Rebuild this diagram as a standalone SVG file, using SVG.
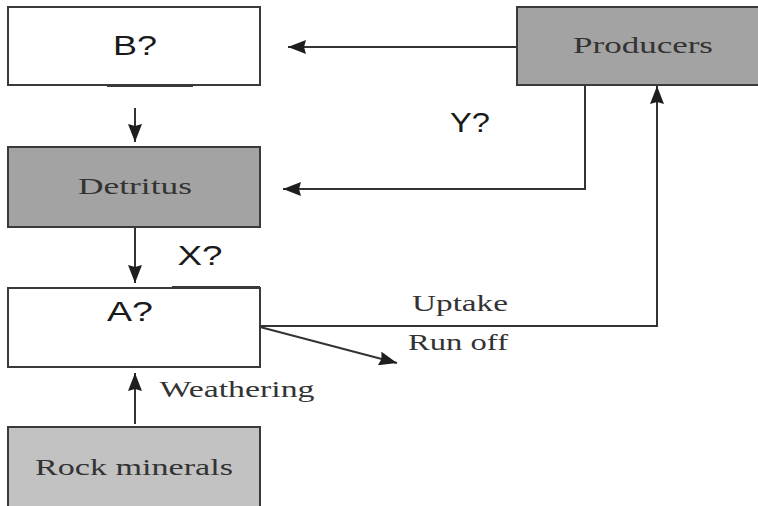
<svg xmlns="http://www.w3.org/2000/svg" width="758" height="506" viewBox="0 0 758 506">
  <defs>
    <marker id="arrow" viewBox="0 0 18 14" refX="18" refY="7" markerWidth="18" markerHeight="14" markerUnits="userSpaceOnUse" orient="auto">
      <path d="M0,0 L18,7 L0,14 L2,7 Z" fill="#1e1e1e"/>
    </marker>
    <style>
      .box { stroke: #3a3a3a; stroke-width: 2; }
      .white { fill: #ffffff; }
      .dark { fill: #a3a3a3; }
      .light { fill: #c2c2c2; }
      .edge { fill: none; stroke: #333; stroke-width: 2; }
      .sans { font-family: "Liberation Sans", Arial, sans-serif; font-size: 27px; fill: #1a1a1a; }
      .serif { font-family: "Liberation Serif", "Times New Roman", serif; font-size: 23px; fill: #333; }
    </style>
  </defs>

  <rect width="758" height="506" fill="#ffffff"/>

  <!-- connectors -->
  <g id="connectors">
    <!-- B to Detritus -->
    <line class="edge" x1="135" y1="108" x2="135" y2="142" marker-end="url(#arrow)"/>
    <!-- Producers to B -->
    <line class="edge" x1="517" y1="47" x2="288" y2="47" marker-end="url(#arrow)"/>
    <!-- Producers to Detritus -->
    <polyline class="edge" points="585,85 585,189 283,189" marker-end="url(#arrow)"/>
    <!-- Detritus to A -->
    <line class="edge" x1="135" y1="228" x2="135" y2="283" marker-end="url(#arrow)"/>
    <!-- Uptake: A to Producers -->
    <polyline class="edge" points="260,326 657,326 657,86" marker-end="url(#arrow)"/>
    <!-- Run off -->
    <line class="edge" x1="260" y1="327" x2="397" y2="363" marker-end="url(#arrow)"/>
    <!-- Weathering: Rock minerals to A -->
    <line class="edge" x1="135" y1="424" x2="135" y2="373" marker-end="url(#arrow)"/>
  </g>

  <!-- edge labels -->
  <g id="labels">
    <text class="sans" x="470" y="132" text-anchor="middle" textLength="40" lengthAdjust="spacingAndGlyphs">Y?</text>
    <text class="sans" x="200" y="265" text-anchor="middle" textLength="45" lengthAdjust="spacingAndGlyphs">X?</text>
    <text class="serif" x="460" y="311" text-anchor="middle" textLength="96" lengthAdjust="spacingAndGlyphs">Uptake</text>
    <text class="serif" x="458" y="350" text-anchor="middle" textLength="100" lengthAdjust="spacingAndGlyphs">Run off</text>
    <text class="serif" x="237" y="397" text-anchor="middle" textLength="155" lengthAdjust="spacingAndGlyphs">Weathering</text>
  </g>

  <g id="node-b">
    <rect class="box white" x="8" y="7" width="252" height="78"/>
    <line x1="107" y1="86" x2="193" y2="86" stroke="#3a3a3a" stroke-width="2"/>
    <text class="sans" x="135" y="55" text-anchor="middle" textLength="44" lengthAdjust="spacingAndGlyphs">B?</text>
  </g>

  <g id="node-producers">
    <rect class="box dark" x="517" y="7" width="245" height="78"/>
    <text class="serif" x="643" y="53" text-anchor="middle" textLength="140" lengthAdjust="spacingAndGlyphs">Producers</text>
  </g>

  <g id="node-detritus">
    <rect class="box dark" x="8" y="147" width="252" height="80"/>
    <text class="serif" x="135" y="194" text-anchor="middle" textLength="114" lengthAdjust="spacingAndGlyphs">Detritus</text>
  </g>

  <g id="node-a">
    <rect class="box white" x="8" y="288" width="252" height="79"/>
    <line x1="172" y1="287" x2="260" y2="287" stroke="#3a3a3a" stroke-width="2"/>
    <text class="sans" x="130" y="321" text-anchor="middle" textLength="46" lengthAdjust="spacingAndGlyphs">A?</text>
  </g>

  <g id="node-rock">
    <rect class="box light" x="8" y="427" width="252" height="90"/>
    <text class="serif" x="134" y="475" text-anchor="middle" textLength="198" lengthAdjust="spacingAndGlyphs">Rock minerals</text>
  </g>
</svg>
